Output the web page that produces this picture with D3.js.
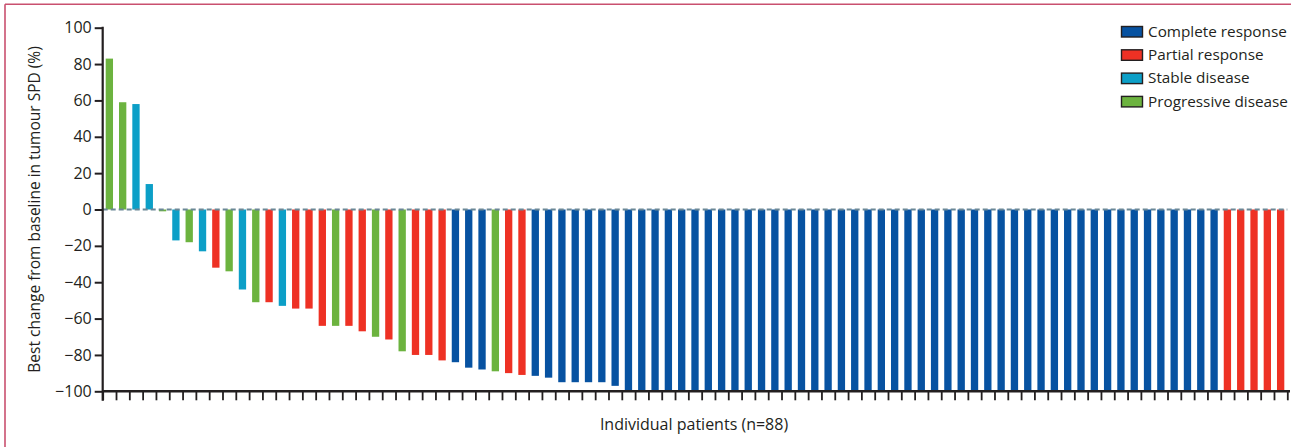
<!DOCTYPE html>
<html>
<head>
<meta charset="utf-8">
<script src="https://cdn.jsdelivr.net/npm/d3@7"></script>
<style>
  html, body { margin: 0; padding: 0; background: #ffffff; }
  svg { display: block; }
  text { font-family: "Open Sans", "Noto Sans", sans-serif; fill: #231f20; }
</style>
</head>
<body>
<svg id="chart" width="1291" height="447"></svg>
<script>
// ---- data ----
const values = [
  83, 59, 58, 14, -1, -17, -18, -23, -32, -34,
  -44, -51, -51, -53, -54.5, -54.5, -64, -64, -64, -67,
  -70, -71.5, -78, -80, -80, -83, -84, -87, -88, -89,
  -90, -91, -91.5, -92.5, -95, -95, -95, -95, -97, -100,
  -100, -100, -100, -100, -100, -100, -100, -100, -100, -100,
  -100, -100, -100, -100, -100, -100, -100, -100, -100, -100,
  -100, -100, -100, -100, -100, -100, -100, -100, -100, -100,
  -100, -100, -100, -100, -100, -100, -100, -100, -100, -100,
  -100, -100, -100, -100, -100, -100, -100, -100, -100
];
const responses = [
  "PD","PD","SD","SD","PD","SD","PD","SD","PR","PD",
  "SD","PD","PR","SD","PR","PR","PR","PD","PR","PR",
  "PD","PR","PD","PR","PR","PR","CR","CR","CR","PD",
  "PR","PR","CR","CR","CR","CR","CR","CR","CR","CR",
  "CR","CR","CR","CR","CR","CR","CR","CR","CR","CR",
  "CR","CR","CR","CR","CR","CR","CR","CR","CR","CR",
  "CR","CR","CR","CR","CR","CR","CR","CR","CR","CR",
  "CR","CR","CR","CR","CR","CR","CR","CR","CR","CR",
  "CR","CR","CR","CR","PR","PR","PR","PR","PR"
];
const legendKeys = ["CR", "PR", "SD", "PD"];
const legendLabels = ["Complete response", "Partial response", "Stable disease", "Progressive disease"];
const legendColors = ["#0752a1", "#ee3124", "#0c9fc7", "#6cb33f"];
const yTicks = [100, 80, 60, 40, 20, 0, -20, -40, -60, -80, -100];
const yTitle = "Best change from baseline in tumour SPD (%)";
const xTitle = "Individual patients (n=88)";

// ---- layout ----
const svg = d3.select("#chart");
const x0 = 102.7, x1 = 1287.3, yTop = 27.7, yBot = 391.3;

const color = d3.scaleOrdinal().domain(legendKeys).range(legendColors);
const patients = values.map((v, i) => i);
const x = d3.scaleBand().domain(patients).range([x0, x1])
  .paddingInner(0.45).paddingOuter(0.225);
const xTickScale = d3.scaleLinear().domain([0, values.length]).range([x0, x1]);
const y = d3.scaleLinear().domain([-100, 100]).range([yBot, yTop]);

// panel border (top and left rules)
svg.append("line").attr("x1", 5).attr("x2", 1291).attr("y1", 4.3).attr("y2", 4.3)
  .attr("stroke", "#c9506f").attr("stroke-width", 1.6);
svg.append("line").attr("x1", 5).attr("x2", 5).attr("y1", 4.3).attr("y2", 447)
  .attr("stroke", "#c9506f").attr("stroke-width", 1.6);

// bars
svg.append("g").selectAll("rect").data(values).join("rect")
  .attr("x", (d, i) => x(i))
  .attr("width", x.bandwidth())
  .attr("y", d => y(Math.max(0, d)))
  .attr("height", d => Math.abs(y(d) - y(0)))
  .attr("fill", (d, i) => color(responses[i]));

// zero dashed line
svg.append("line")
  .attr("x1", x0).attr("x2", x1)
  .attr("y1", y(0)).attr("y2", y(0))
  .attr("stroke", "#6b8796").attr("stroke-width", 2)
  .attr("stroke-dasharray", "5,3");

// y axis
const yAxis = d3.axisLeft(y).tickValues(yTicks).tickSize(8).tickPadding(3)
  .tickFormat(d => d < 0 ? "\u2212" + Math.abs(d) : String(d));
const gy = svg.append("g").attr("transform", `translate(${x0},0)`).call(yAxis);
gy.select(".domain").remove();
gy.selectAll(".tick line").attr("stroke", "#231f20").attr("stroke-width", 2);
gy.selectAll(".tick text").style("font-size", "16px").style("fill", "#231f20")
  .attr("font-family", null);
svg.append("line").attr("x1", x0).attr("x2", x0).attr("y1", yTop - 1).attr("y2", yBot + 9.5)
  .attr("stroke", "#231f20").attr("stroke-width", 2.2);

// x axis
const xAxis = d3.axisBottom(xTickScale).tickValues(d3.range(values.length + 1))
  .tickSize(9).tickFormat("");
const gx = svg.append("g").attr("transform", `translate(0,${yBot})`).call(xAxis);
gx.select(".domain").remove();
gx.selectAll(".tick line").attr("stroke", "#231f20").attr("stroke-width", 1.8);
svg.append("line").attr("x1", x0).attr("x2", 1290).attr("y1", yBot).attr("y2", yBot)
  .attr("stroke", "#231f20").attr("stroke-width", 2.4);

// axis titles
svg.append("text")
  .attr("transform", `translate(39.5,${y(0)}) rotate(-90)`)
  .attr("text-anchor", "middle")
  .style("font-size", "15.5px")
  .text(yTitle);
svg.append("text")
  .attr("x", 694).attr("y", 430)
  .attr("text-anchor", "middle")
  .style("font-size", "16px")
  .text(xTitle);

// legend
const lg = svg.append("g");
const rows = lg.selectAll("g").data(legendKeys).join("g")
  .attr("transform", (d, i) => `translate(1121,${26 + i * 23.3})`);
rows.append("rect").attr("x", 0.5).attr("y", 0.5).attr("width", 21).attr("height", 10.5)
  .attr("fill", d => color(d)).attr("stroke", "#231f20").attr("stroke-width", 1.4);
rows.append("text").attr("x", 27).attr("y", 5.5).attr("dy", "0.35em")
  .style("font-size", "15.3px")
  .text((d, i) => legendLabels[i]);
</script>
</body>
</html>
